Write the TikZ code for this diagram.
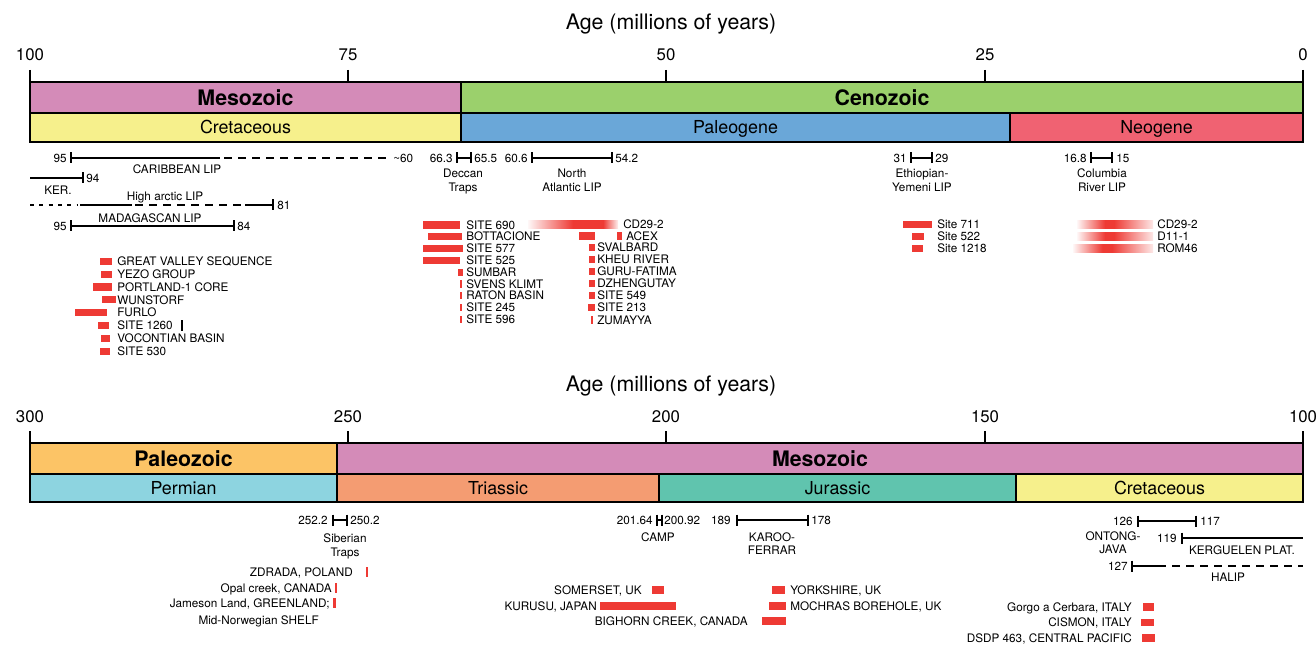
\documentclass[tikz,border=0pt]{standalone}
\usepackage{fontspec}
\setmainfont{TeX Gyre Heros}
\definecolor{cMeso}{RGB}{212,139,184}
\definecolor{cCeno}{RGB}{155,208,108}
\definecolor{cCret}{RGB}{246,240,140}
\definecolor{cPaleog}{RGB}{106,167,216}
\definecolor{cNeog}{RGB}{240,98,114}
\definecolor{cPaleoz}{RGB}{252,196,102}
\definecolor{cPerm}{RGB}{141,212,224}
\definecolor{cTrias}{RGB}{244,156,114}
\definecolor{cJura}{RGB}{96,196,174}
\definecolor{cRed}{RGB}{238,58,52}
\pgfdeclarehorizontalshading{petmshade}{100bp}{color(0bp)=(cRed!4); color(25bp)=(cRed!4); color(50bp)=(cRed); color(66.7bp)=(cRed); color(75bp)=(cRed!8); color(100bp)=(cRed!8)}
\pgfdeclarehorizontalshading{mioshade}{100bp}{color(0bp)=(cRed!4); color(25bp)=(cRed!4); color(43.4bp)=(cRed); color(49.3bp)=(cRed); color(75bp)=(cRed!12); color(100bp)=(cRed!12)}
\tikzset{
  box/.style={draw=black, line width=1.5pt},
  sm/.style={font=\fontsize{8.8pt}{10pt}\selectfont, inner sep=0pt},
  lw/.style={sm, anchor=base west, yshift=-3.15pt},
  le/.style={sm, anchor=base east, yshift=-3.15pt},
  lc/.style={sm, anchor=base, yshift=-3.15pt},
  ttl/.style={font=\fontsize{16pt}{18pt}\selectfont, inner sep=0pt, anchor=base},
  axn/.style={font=\fontsize{12.6pt}{14pt}\selectfont, inner sep=0pt, anchor=base, yshift=-4.5pt},
  era/.style={font=\fontsize{16pt}{18pt}\selectfont\bfseries, inner sep=0pt, anchor=base, yshift=-5.7pt},
  per/.style={font=\fontsize{13.4pt}{15pt}\selectfont, inner sep=0pt, anchor=base, yshift=-4.8pt},
  lip/.style={line width=1.5pt},
  tck/.style={line width=2pt},
  dsh/.style={line width=1.5pt, dash pattern=on 6pt off 4.5pt},
  dot/.style={line width=1.5pt, dash pattern=on 3pt off 4pt},
}
\newcommand\rb[3]{\fill[cRed] (#1,{#3-3.6}) rectangle (#2,{#3+3.6});}
\newcommand\tk[2]{\draw[tck] (#1,{#2-5.5}) -- (#1,{#2+5.5});}
\newcommand\axtick[2]{\draw[line width=1.5pt] (#1,#2) -- (#1,{#2+12});}
\begin{document}
\begin{tikzpicture}[x=0.75pt,y=-0.75pt]
\useasboundingbox (0,0) rectangle (1316,648);

% ================= TOP PANEL =================
\node[ttl] (t1) at (671,30) {Age (millions of years)};
\foreach \x/\l [count=\i] in {30/100,348/75,666/50,985/25,1303/0}{
  \node[axn] (ta\i) at (\x,55) {\l};
  \axtick{\x}{70}
}
\draw[box, fill=cMeso] (30,82) rectangle (461,113);
\draw[box, fill=cCeno] (461,82) rectangle (1303,113);
\draw[box, fill=cCret] (30,113) rectangle (461,142);
\draw[box, fill=cPaleog] (461,113) rectangle (1010,142);
\draw[box, fill=cNeog] (1010,113) rectangle (1303,142);
\node[era] (eMeso1) at (245.5,97.5) {Mesozoic};
\node[era] (eCeno) at (882,97.5) {Cenozoic};
\node[per] (pCret1) at (245.5,127.5) {Cretaceous};
\node[per] (pPaleog) at (735.5,127.5) {Paleogene};
\node[per] (pNeog) at (1156.5,127.5) {Neogene};

% LIPs top
\tk{71}{158}
\draw[lip] (71,158) -- (220,158);
\draw[dsh] (224,158) -- (390,158);
\node[le] (car95) at (67,158) {95};
\node[lw] (car60) at (393,158) {\textasciitilde 60};
\node[lc] (carl) at (177,169) {CARIBBEAN LIP};

\draw[lip] (30,178) -- (83,178); \tk{83}{178}
\node[lw] (ker94) at (86,178) {94};
\node[lc] (kerl) at (58,190) {KER.};

\draw[dot] (30,205) -- (78,205);
\draw[lip] (80,205) -- (132,205);
\draw[dsh] (135,205) -- (242,205);
\draw[lip] (245,205) -- (273,205); \tk{273}{205}
\node[lw] (ha81) at (277,205) {81};
\node[lc] (hal) at (165,196) {High arctic LIP};

\tk{71}{226}\tk{234}{226}
\draw[lip] (71,226) -- (234,226);
\node[le] (mad95) at (67,226) {95};
\node[lw] (mad84) at (237,226) {84};
\node[lc] (madl) at (150,218) {MADAGASCAN LIP};

\tk{457}{158}\tk{471}{158}
\draw[lip] (457,158) -- (471,158);
\node[le] (dec1) at (453,158) {66.3};
\node[lw] (dec2) at (474,158) {65.5};
\node[lc] (decl1) at (463,173) {Deccan};
\node[lc] (decl2) at (463,187) {Traps};

\tk{532}{158}\tk{612}{158}
\draw[lip] (532,158) -- (612,158);
\node[le] (na1) at (528,158) {60.6};
\node[lw] (na2) at (615,158) {54.2};
\node[lc] (nal1) at (572,173) {North};
\node[lc] (nal2) at (572,187) {Atlantic LIP};

\tk{911}{158}\tk{932}{158}
\draw[lip] (911,158) -- (932,158);
\node[le] (et1) at (907,158) {31};
\node[lw] (et2) at (935,158) {29};
\node[lc] (etl1) at (922,173) {Ethiopian-};
\node[lc] (etl2) at (922,187) {Yemeni LIP};

\tk{1091}{158}\tk{1112}{158}
\draw[lip] (1091,158) -- (1112,158);
\node[le] (co1) at (1087,158) {16.8};
\node[lw] (co2) at (1116,158) {15};
\node[lc] (col1) at (1102,173) {Columbia};
\node[lc] (col2) at (1102,187) {River LIP};

% Cretaceous sites
\rb{100}{112}{261.5} \node[lw] (s1) at (117,261.5) {GREAT VALLEY SEQUENCE};
\rb{101}{112}{274.3} \node[lw] (s2) at (117,274.3) {YEZO GROUP};
\rb{93}{112}{287.1} \node[lw] (s3) at (117,287.1) {PORTLAND-1 CORE};
\rb{102}{116}{299.9} \node[lw] (s4) at (117,299.9) {WUNSTORF};
\rb{75}{107}{312.7} \node[lw] (s5) at (117,312.7) {FURLO};
\rb{98}{109}{325.5} \node[lw] (s6) at (117,325.5) {SITE 1260};
\draw[line width=1.5pt] (182,320.5) -- (182,331);
\rb{101}{110}{338.3} \node[lw] (s7) at (117,338.3) {VOCONTIAN BASIN};
\rb{100}{110}{351.1} \node[lw] (s8) at (117,351.1) {SITE 530};

% K-Pg sites
\rb{423}{460}{225} \node[lw] (k1) at (466,225) {SITE 690};
\rb{428}{462}{236.8} \node[lw] (k2) at (466,236.8) {BOTTACIONE};
\rb{423}{463}{248.6} \node[lw] (k3) at (466,248.6) {SITE 577};
\rb{423}{460}{260.4} \node[lw] (k4) at (466,260.4) {SITE 525};
\rb{458}{463}{272.2} \node[lw] (k5) at (466,272.2) {SUMBAR};
\rb{459.5}{462}{284} \node[lw] (k6) at (466,284) {SVENS KLIMT};
\rb{459.5}{462}{295.8} \node[lw] (k7) at (466,295.8) {RATON BASIN};
\rb{459.5}{462}{307.6} \node[lw] (k8) at (466,307.6) {SITE 245};
\rb{459.5}{462}{319.4} \node[lw] (k9) at (466,319.4) {SITE 596};

% PETM sites
\shade[shading=petmshade] (528,221) rectangle (618,228.2);
\node[lw] (p1) at (623,224.5) {CD29-2};
\rb{579}{595}{236} \rb{617}{622}{236} \node[lw] (p2) at (626,236) {ACEX};
\rb{589}{595}{247.6} \node[lw] (p3) at (597,247.6) {SVALBARD};
\rb{589}{595}{259.6} \node[lw] (p4) at (597,259.6) {KHEU RIVER};
\rb{589}{595}{271.6} \node[lw] (p5) at (597,271.6) {GURU-FATIMA};
\rb{589}{595}{283.6} \node[lw] (p6) at (597,283.6) {DZHENGUTAY};
\rb{589}{595}{295.8} \node[lw] (p7) at (597,295.8) {SITE 549};
\rb{588}{595}{307.8} \node[lw] (p8) at (597,307.8) {SITE 213};
\rb{591}{593}{320} \node[lw] (p9) at (597,320) {ZUMAYYA};

% Eocene-Oligocene sites
\rb{903}{932}{224.5} \node[lw] (e1) at (937,224.5) {Site 711};
\rb{912}{924}{236.5} \node[lw] (e2) at (937,236.5) {Site 522};
\rb{912}{923}{248.5} \node[lw] (e3) at (937,248.5) {Site 1218};

% Miocene gradient bars
\foreach \yy/\xs/\lab/\nm in {224.5/1077/CD29-2/m1, 236.5/1077/D11-1/m2, 248.5/1073/ROM46/m3}{
  \shade[shading=mioshade] (\xs,\yy-3.6) rectangle (1153,\yy+3.6);
  \node[lw] (\nm) at (1157,\yy) {\lab};
}

% ================= BOTTOM PANEL =================
\node[ttl] (t2) at (671,391) {Age (millions of years)};
\foreach \x/\l [count=\i] in {30/300,348/250,666/200,985/150,1303/100}{
  \node[axn] (ba\i) at (\x,416) {\l};
  \axtick{\x}{431}
}
\draw[box, fill=cPaleoz] (30,443) rectangle (337,474);
\draw[box, fill=cMeso] (337,443) rectangle (1303,474);
\draw[box, fill=cPerm] (30,474) rectangle (337,502);
\draw[box, fill=cTrias] (337,474) rectangle (659,502);
\draw[box, fill=cJura] (659,474) rectangle (1016,502);
\draw[box, fill=cCret] (1016,474) rectangle (1303,502);
\node[era] (ePaleoz) at (183.5,458.5) {Paleozoic};
\node[era] (eMeso2) at (820,458.5) {Mesozoic};
\node[per] (pPerm) at (183.5,488) {Permian};
\node[per] (pTrias) at (498,488) {Triassic};
\node[per] (pJura) at (837.5,488) {Jurassic};
\node[per] (pCret2) at (1159.5,488) {Cretaceous};

% LIPs bottom
\tk{333}{520}\tk{347}{520}
\draw[lip] (333,520) -- (347,520);
\node[le] (si1) at (328,520) {252.2};
\node[lw] (si2) at (350,520) {250.2};
\node[lc] (sil1) at (345,538) {Siberian};
\node[lc] (sil2) at (345,552) {Traps};

\tk{657}{520}\tk{662}{520}
\draw[lip] (657,520) -- (662,520);
\node[le] (ca1) at (653,520) {201.64};
\node[lw] (ca2) at (664,520) {200.92};
\node[lc] (cal) at (658,537) {CAMP};

\tk{737}{520}\tk{808}{520}
\draw[lip] (737,520) -- (808,520);
\node[le] (ka1) at (731,520) {189};
\node[lw] (ka2) at (811,520) {178};
\node[lc] (kal1) at (772,537) {KAROO-};
\node[lc] (kal2) at (772,550) {FERRAR};

\tk{1138}{521}\tk{1196}{521}
\draw[lip] (1138,521) -- (1196,521);
\node[le] (on1) at (1133,521) {126};
\node[lw] (on2) at (1200,521) {117};
\node[lc] (onl1) at (1113,536) {ONTONG-};
\node[lc] (onl2) at (1113,549) {JAVA};

\tk{1182}{538}
\draw[lip] (1182,538) -- (1303,538);
\node[le] (kp1) at (1177,538) {119};
\node[lc] (kpl) at (1242,550) {KERGUELEN PLAT.};

\tk{1132}{566}
\draw[lip] (1132,566) -- (1166,566);
\draw[dsh] (1172,566) -- (1303,566);
\node[le] (hl1) at (1128,566) {127};
\node[lc] (hll) at (1228,577) {HALIP};

% P-Tr sites
\fill[cRed] (366,567) rectangle (368,577);
\node[le] (z1) at (353,572) {ZDRADA, POLAND};
\fill[cRed] (335,583) rectangle (337,593);
\node[le] (z2) at (332,588) {Opal creek, CANADA};
\fill[cRed] (333,598) rectangle (336,608);
\node[le] (z3) at (330,603) {Jameson Land, GREENLAND;};
\node[le] (z4) at (319,620) {Mid-Norwegian SHELF};

% T-J sites
\rb{652}{664}{590} \node[le] (j1) at (642,590) {SOMERSET, UK};
\rb{600}{676}{606} \node[le] (j2) at (597,606) {KURUSU, JAPAN};
\rb{762}{786}{621} \node[le] (j3) at (748,621) {BIGHORN CREEK, CANADA};
\rb{772}{785}{590} \node[lw] (j4) at (790,590) {YORKSHIRE, UK};
\rb{769}{786}{606} \node[lw] (j5) at (790,606) {MOCHRAS BOREHOLE, UK};

% OAE sites
\rb{1143}{1154}{607} \node[le] (o1) at (1132,607) {Gorgo a Cerbara, ITALY};
\rb{1141}{1154}{622.5} \node[le] (o2) at (1132,622.5) {CISMON, ITALY};
\rb{1142}{1155}{638} \node[le] (o3) at (1132,638) {DSDP 463, CENTRAL PACIFIC};
\end{tikzpicture}
\end{document}
